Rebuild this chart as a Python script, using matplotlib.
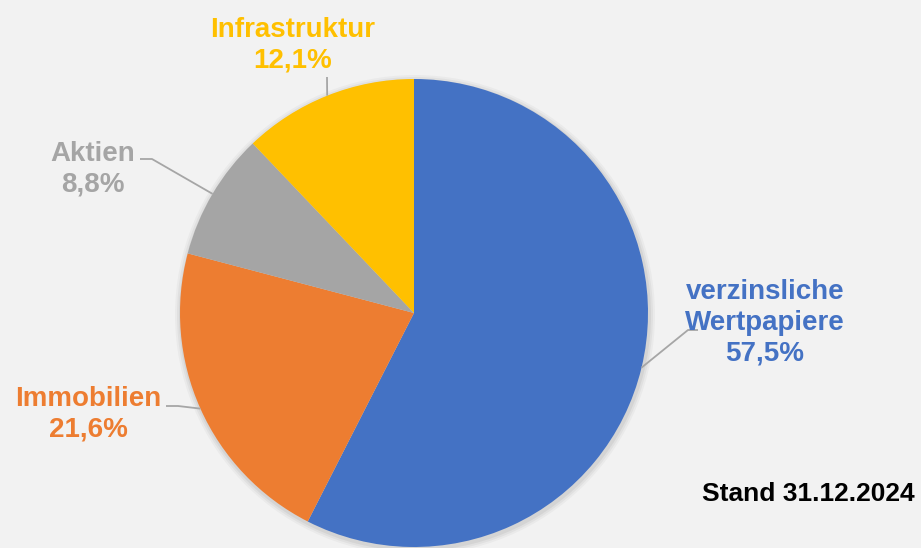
import numpy as np
import matplotlib.pyplot as plt

plt.rcParams['font.family'] = ['Liberation Sans', 'DejaVu Sans']

# data
labels = ['verzinsliche\nWertpapiere', 'Immobilien', 'Aktien', 'Infrastruktur']
values = [57.5, 21.6, 8.8, 12.1]
pct_text = ['57,5%', '21,6%', '8,8%', '12,1%']
colors = ['#4472C4', '#ED7D31', '#A5A5A5', '#FFC000']

W, H = 921, 548
fig = plt.figure(figsize=(W / 100, H / 100), dpi=100, facecolor='#F2F2F2')
ax = fig.add_axes([0, 0, 1, 1])
ax.set_facecolor('#F2F2F2')

cx, cy, r = 414, 313, 234

# soft shadow
for k, a in [(6, 0.03), (4, 0.04), (2, 0.05)]:
    ax.add_patch(plt.Circle((cx + 1, cy + 2), r + k, color='black', alpha=a, lw=0))

# y axis is inverted -> counterclock=True in data gives clockwise on screen
wedges, _ = ax.pie(values, colors=colors, startangle=-90, counterclock=True,
                   center=(cx, cy), radius=r, frame=True,
                   wedgeprops=dict(linewidth=0))
ax.set_xlim(0, W)
ax.set_ylim(H, 0)   # pixel coords, y down
ax.set_aspect('equal')
ax.axis('off')

# label placement (text centre, elbow points)
label_pos = [(765, 323), (88, 414), (93, 169), (293, 45)]
elbows = [[(698, 330), (688, 330)],
          [(166, 406), (178, 406)],
          [(140, 159), (152, 159)],
          [(327, 77)]]

for w, lab, pct, col, (tx, ty), el in zip(wedges, labels, pct_text, colors, label_pos, elbows):
    mid = np.deg2rad((w.theta1 + w.theta2) / 2)
    px = cx + r * np.cos(mid)
    py = cy + r * np.sin(mid)
    xs = [p[0] for p in el] + [px]
    ys = [p[1] for p in el] + [py]
    ax.plot(xs, ys, color='#A6A6A6', lw=1.3, solid_capstyle='butt')
    ax.text(tx, ty, lab + '\n' + pct, color=col, fontsize=20, fontweight='bold',
            ha='center', va='center', linespacing=1.24)

ax.text(808, 494, 'Stand 31.12.2024', color='black', fontsize=19,
        fontweight='bold', ha='center', va='center')

fig.savefig('out.png', dpi=100, facecolor=fig.get_facecolor())
